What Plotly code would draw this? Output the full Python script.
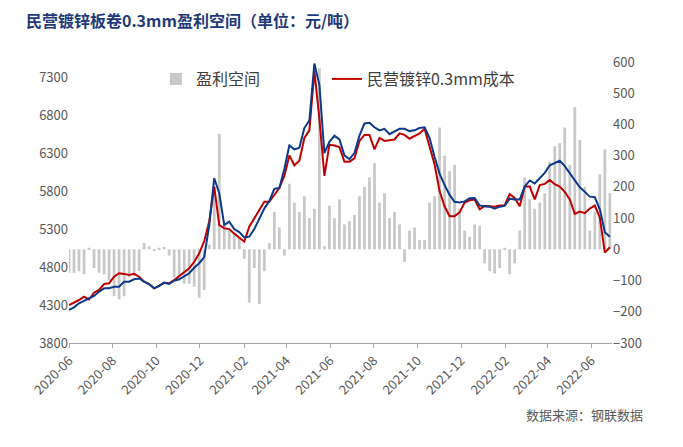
import pandas as pd
import plotly.graph_objects as go

# weekly samples, first week 2020-06-01
dates = pd.date_range("2020-06-01", periods=109, freq="7D")

# 民营镀锌0.3mm价格 (blue, left axis)
price = [
    4235, 4270, 4323, 4357, 4380, 4420, 4475, 4520, 4520, 4541,
    4541, 4607, 4607, 4639, 4650, 4607, 4577, 4520, 4551, 4594,
    4577, 4620, 4639, 4673, 4718, 4790, 4850, 4930, 5350, 5970,
    5771, 5354, 5398, 5300, 5260, 5190, 5200, 5300, 5440, 5570,
    5670, 5830, 5840, 6090, 6400, 6350, 6370, 6630, 6730, 7480,
    7200, 6300, 6450, 6530, 6480, 6270, 6220, 6300, 6530, 6690,
    6700, 6640, 6600, 6620, 6550, 6590, 6620, 6620, 6590, 6600,
    6630, 6640, 6500, 6250, 6030, 5880, 5750, 5660, 5650, 5665,
    5705, 5710, 5610, 5600, 5595, 5570, 5595, 5605, 5700, 5690,
    5690, 5860, 5940, 5900, 5970, 6040, 6140, 6170, 6200, 6130,
    6040, 5940, 5850, 5790, 5727, 5720, 5560, 5260, 5200,
]

# 民营镀锌0.3mm成本 (red, left axis)
cost = [
    4300, 4331, 4366, 4410, 4373, 4462, 4498, 4577, 4586, 4673,
    4718, 4710, 4695, 4710, 4673, 4607, 4577, 4520, 4551, 4594,
    4586, 4630, 4682, 4740, 4784, 4870, 4981, 5140, 5400, 5858,
    5354, 5310, 5300, 5240, 5190, 5134, 5332, 5440, 5560, 5660,
    5660, 5750, 5840, 6000, 6270, 6140, 6200, 6500, 6600, 7380,
    6750, 6000, 6410, 6400, 6380, 6188, 6188, 6230, 6460, 6540,
    6540, 6350, 6500, 6460, 6474, 6480, 6560, 6540, 6490, 6520,
    6560, 6620, 6400, 6150, 5800, 5600, 5470, 5470, 5520, 5650,
    5680, 5690, 5560, 5605, 5600, 5595, 5610, 5615, 5760, 5710,
    5600, 5860, 5860, 5690, 5880, 5895, 5947, 5890, 5860, 5790,
    5690, 5500, 5530, 5510, 5570, 5610, 5450, 4990, 5060,
]

# 盈利空间 (grey bars, right axis)
profit = [
    -75, -75, -70, -80, 5, -60, -75, -80, -100, -150,
    -160, -150, -90, -85, -70, 20, 10, -5, 5, 8,
    -20, -90, -100, -110, -110, -120, -155, -130, 15, 200,
    370, 85, 60, 50, 40, -30, -170, -60, -175, -70,
    20, 120, 70, -20, 210, 150, 120, 170, 100, 130,
    580, 10, 140, 100, 160, 80, 90, 110, 170, 200,
    230, 276, 150, 180, 100, 120, 80, -40, 60, 70,
    30, 30, 150, 170, 390, 300, 250, 270, 130, 60,
    40, 80, 75, -45, -70, -77, -60, 5, -80, -45,
    60, 230, 160, 130, 150, 180, 280, 330, 340, 390,
    270, 455, 350, 200, 60, 120, 240, 320, 180,
]

FONT = "Noto Sans CJK SC, Noto Sans, sans-serif"
GREY_TXT = "#595959"

fig = go.Figure()
fig.add_trace(go.Bar(
    x=dates, y=profit, name="盈利空间",
    marker_color="#C8C8C8", marker_line_width=0,
    yaxis="y", legend="legend",
))
fig.add_trace(go.Scatter(
    x=dates, y=cost, name="民营镀锌0.3mm成本",
    mode="lines", line=dict(color="#C00000", width=2),
    yaxis="y2", legend="legend2",
))
fig.add_trace(go.Scatter(
    x=dates, y=price, name="价格",
    mode="lines", line=dict(color="#0B3A8A", width=2),
    yaxis="y2", showlegend=False,
))

legend_style = dict(
    orientation="h", xanchor="left", y=1.0, yanchor="top",
    bgcolor="rgba(0,0,0,0)", font=dict(size=16, color="#404040"),
)

fig.update_layout(
    width=683, height=447,
    paper_bgcolor="white", plot_bgcolor="white",
    font=dict(family=FONT, color=GREY_TXT, size=13),
    margin=dict(l=69, r=71, t=62, b=104),
    bargap=0.45,
    title=dict(
        text="<b>民营镀锌板卷0.3mm盈利空间（单位：元/吨）</b>",
        x=0.038, xanchor="left", xref="container",
        y=0.953, yanchor="middle", yref="container",
        font=dict(family=FONT, size=16, color="#1F3A7A"),
    ),
    legend=dict(x=0.16, **legend_style),
    legend2=dict(x=0.475, **legend_style),
    xaxis=dict(
        type="date", range=["2020-06-01", "2022-06-30"],
        tickformat="%Y-%m", dtick="M2", tick0="2020-06-01",
        tickangle=-45, showgrid=False, zeroline=False,
        showline=True, linecolor="#A6A6A6", linewidth=1,
        ticks="outside", ticklen=4, tickcolor="#A6A6A6",
        tickfont=dict(size=13, color=GREY_TXT),
    ),
    yaxis=dict(
        side="right", range=[-300, 600], dtick=100,
        showgrid=False, zeroline=False, showline=False,
        tickfont=dict(size=13, color=GREY_TXT),
    ),
    yaxis2=dict(
        side="left", overlaying="y", range=[3800, 7500],
        tickvals=[3800, 4300, 4800, 5300, 5800, 6300, 6800, 7300],
        showgrid=False, zeroline=False, showline=False,
        tickfont=dict(size=13, color=GREY_TXT),
    ),
    annotations=[dict(
        text="数据来源：钢联数据", xref="paper", yref="paper",
        x=1.061, y=-0.253, xanchor="right", yanchor="middle",
        showarrow=False, font=dict(size=13, color=GREY_TXT),
    )],
)

# drop the browser's default page margin so the figure sits at (0, 0)
fig.write_html(
    "out.html",
    config={"displayModeBar": False},
    post_script="document.body.style.margin='0';",
)
